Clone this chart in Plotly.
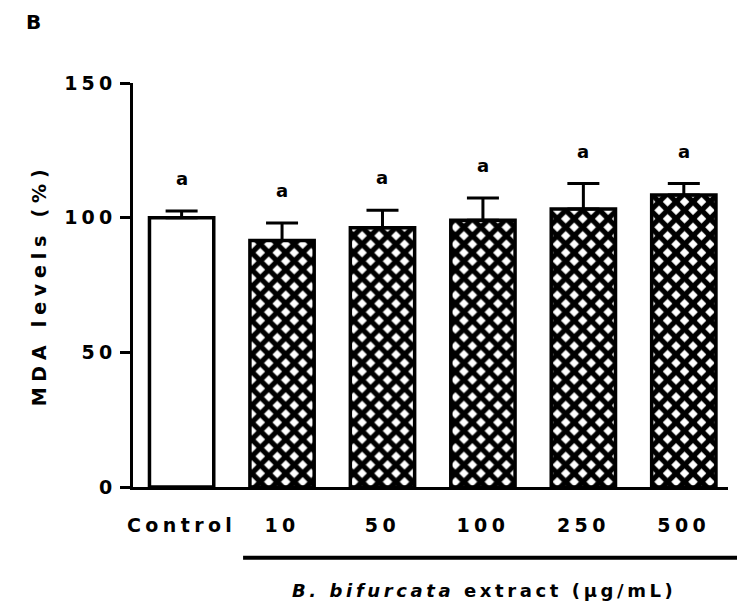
import plotly.graph_objects as go

# Data
categories = ["Control", "10", "50", "100", "250", "500"]
mda_mean = [100.0, 91.5, 96.3, 99.0, 103.2, 108.4]
mda_sem = [2.5, 6.5, 6.5, 8.3, 9.5, 4.3]
group_letters = ["a", "a", "a", "a", "a", "a"]
y_ticks = [0, 50, 100, 150]

FONT = "DejaVu Sans"


def spaced(txt, ls):
    return f'<span style="letter-spacing:{ls}px">{txt}</span>'


x_idx = list(range(len(categories)))

fig = go.Figure()
fig.add_trace(go.Bar(
    x=x_idx,
    y=mda_mean,
    width=0.64,
    marker=dict(
        color="white",
        line=dict(color="black", width=3.5),
        pattern=dict(
            shape=[""] + ["x"] * 5,
            fgcolor="black",
            bgcolor="white",
            fgopacity=1,
            size=12,
            solidity=0.68,
        ),
    ),
    error_y=dict(
        type="data",
        symmetric=False,
        array=mda_sem,
        arrayminus=[0] * len(mda_sem),
        color="black",
        thickness=3,
        width=16,
    ),
    showlegend=False,
))

# significance letters above the error bars
for i, (m, s, lab) in enumerate(zip(mda_mean, mda_sem, group_letters)):
    fig.add_annotation(
        x=i, y=m + s + 12, xref="x", yref="y",
        text=f"<b>{lab}</b>", showarrow=False,
        font=dict(family=FONT, size=18, color="black"),
        yanchor="middle",
    )

# bracket under the extract doses
fig.add_shape(
    type="line", xref="paper", yref="paper",
    x0=0.185, x1=1.02, y0=-0.175, y1=-0.175,
    line=dict(color="black", width=4),
)
fig.add_annotation(
    xref="paper", yref="paper", x=0.59, y=-0.255,
    text=spaced("<b><i>B. bifurcata</i> extract (µg/mL)</b>", 3.6),
    showarrow=False, yanchor="middle",
    font=dict(family=FONT, size=18, color="black"),
)

# panel label
fig.add_annotation(
    xref="paper", yref="paper", x=-0.167, y=1.15,
    text="<b>B</b>", showarrow=False, xanchor="center", yanchor="middle",
    font=dict(family=FONT, size=20, color="black"),
)

fig.update_layout(
    width=737, height=608,
    margin=dict(l=133, r=9, t=83, b=121),
    paper_bgcolor="white", plot_bgcolor="white",
    font=dict(family=FONT, size=19, color="black"),
    xaxis=dict(
        range=[-0.484, 5.44],
        tickvals=x_idx,
        ticktext=[spaced(f"<b>{c}</b>", 4.4) for c in categories],
        ticks="", showgrid=False, zeroline=False,
        showline=True, linecolor="black", linewidth=3,
        ticklabelstandoff=19,
        tickfont=dict(family=FONT, size=19),
    ),
    yaxis=dict(
        range=[0, 150],
        tickvals=y_ticks,
        ticktext=[spaced(f"<b>{v}</b>", 4.2) for v in y_ticks],
        ticks="outside", ticklen=10, tickwidth=2.5, tickcolor="black",
        showgrid=False, zeroline=False,
        showline=True, linecolor="black", linewidth=2.5,
        ticklabelstandoff=0,
        tickfont=dict(family=FONT, size=19),
        title=dict(text=spaced("<b>MDA levels (%)</b>", 5.8), standoff=13,
                   font=dict(family=FONT, size=19)),
    ),
)

fig.write_html("out.html")
